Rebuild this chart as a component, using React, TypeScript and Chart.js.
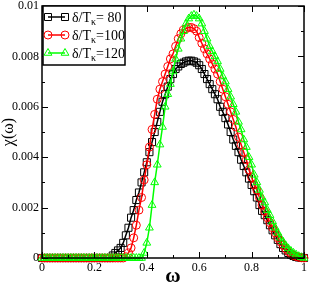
import React, { useEffect, useRef } from 'react';
import { Chart, registerables } from 'chart.js';

Chart.register(...registerables);

// ω grid (x values)
const omega = [
  0, 0.01, 0.02, 0.03, 0.04, 0.05, 0.06, 0.07, 0.08, 0.09,
  0.1, 0.11, 0.12, 0.13, 0.14, 0.15, 0.16, 0.17, 0.18, 0.19,
  0.2, 0.21, 0.22, 0.23, 0.24, 0.25, 0.26, 0.27, 0.28, 0.29,
  0.3, 0.31, 0.32, 0.33, 0.34, 0.35, 0.36, 0.37, 0.38, 0.39,
  0.4, 0.41, 0.42, 0.43, 0.44, 0.45, 0.46, 0.47, 0.48, 0.49,
  0.5, 0.51, 0.52, 0.53, 0.54, 0.55, 0.56, 0.57, 0.58, 0.59,
  0.6, 0.61, 0.62, 0.63, 0.64, 0.65, 0.66, 0.67, 0.68, 0.69,
  0.7, 0.71, 0.72, 0.73, 0.74, 0.75, 0.76, 0.77, 0.78, 0.79,
  0.8, 0.81, 0.82, 0.83, 0.84, 0.85, 0.86, 0.87, 0.88, 0.89,
  0.9, 0.91, 0.92, 0.93, 0.94, 0.95, 0.96, 0.97, 0.98, 0.99,
  1,
];

// δ/Tκ = 80
const chi80 = [
  0, 0, 0, 0, 0, 0, 0, 0, 0, 0,
  0, 0, 0, 0, 0, 0, 0, 0, 0, 0,
  0, 0, 0, 0, 0, 0, 0, 0.0001, 0.0002, 0.0003,
  0.0004, 0.0006, 0.0009, 0.0012, 0.0016, 0.0019, 0.0023, 0.0026, 0.003, 0.0034,
  0.0038, 0.0042, 0.0046, 0.005, 0.0054, 0.0058, 0.0062, 0.0065, 0.0068, 0.0071,
  0.0073, 0.0075, 0.0076, 0.0077, 0.00775, 0.0078, 0.00783, 0.00783, 0.0078, 0.00775,
  0.00765, 0.0075, 0.0073, 0.0071, 0.0069, 0.0067, 0.0065, 0.0063, 0.006, 0.0058,
  0.00555, 0.0053, 0.005, 0.0047, 0.00445, 0.0042, 0.0039, 0.00365, 0.0034, 0.00315,
  0.0029, 0.00265, 0.0024, 0.0021, 0.00187, 0.0017, 0.0015, 0.0013, 0.0011, 0.0009,
  0.00072, 0.00055, 0.0004, 0.0003, 0.0002, 0.00013, 0.00008, 0.00004, 0.00002, 0.00001,
  0,
];

// δ/Tκ = 100
const chi100 = [
  0, 0, 0, 0, 0, 0, 0, 0, 0, 0,
  0, 0, 0, 0, 0, 0, 0, 0, 0, 0,
  0, 0, 0, 0, 0, 0, 0, 0, 0, 0,
  0, 0, 0.00005, 0.0002, 0.0004, 0.0008, 0.0013, 0.0019, 0.0024, 0.0031,
  0.0037, 0.0044, 0.0051, 0.0057, 0.0063, 0.0067, 0.007, 0.0073, 0.0076, 0.0079,
  0.0081, 0.0084, 0.0087, 0.0089, 0.00905, 0.0091, 0.00915, 0.00915, 0.0091, 0.009,
  0.00875, 0.00852, 0.0083, 0.0081, 0.0079, 0.0077, 0.0075, 0.0073, 0.007, 0.0067,
  0.0064, 0.0061, 0.0058, 0.0055, 0.0052, 0.0048, 0.0045, 0.0042, 0.0039, 0.0035,
  0.0032, 0.0029, 0.0027, 0.0024, 0.0021, 0.00185, 0.0016, 0.0014, 0.0012, 0.001,
  0.0008, 0.00065, 0.0005, 0.00037, 0.00026, 0.00017, 0.0001, 0.00006, 0.00003, 0.00001,
  0,
];

// δ/Tκ = 120
const chi120 = [
  0, 0, 0, 0, 0, 0, 0, 0, 0, 0,
  0, 0, 0, 0, 0, 0, 0, 0, 0, 0,
  0, 0, 0, 0, 0, 0, 0, 0, 0, 0,
  0, 0, 0, 0, 0, 0, 0, 0, 0, 0.0002,
  0.0006, 0.0012, 0.0021, 0.003, 0.0037, 0.0045, 0.0052, 0.006, 0.0065, 0.0069,
  0.0074, 0.0079, 0.0083, 0.0087, 0.009, 0.0093, 0.0095, 0.0096, 0.00965, 0.0096,
  0.0095, 0.0093, 0.009, 0.0087, 0.0084, 0.0082, 0.008, 0.0078, 0.0075, 0.0072,
  0.007, 0.0067, 0.0064, 0.0061, 0.0058, 0.0054, 0.0051, 0.0047, 0.0044, 0.004,
  0.0037, 0.0033, 0.003, 0.0027, 0.0024, 0.0022, 0.0019, 0.0017, 0.00145, 0.0012,
  0.001, 0.0008, 0.00065, 0.0005, 0.00038, 0.00028, 0.0002, 0.00013, 0.00007, 0.00003,
  0,
];

const seriesSuffix = ['= 80', '=100', '=120'];
const seriesColors = ['#000000', '#ff0000', '#00ff00'];
const seriesMarkers = ['rect', 'circle', 'triangle'];

const xMajorTicks = [0, 0.2, 0.4, 0.6, 0.8, 1];
const xMinorTicks = [0.1, 0.3, 0.5, 0.7, 0.9];
const xTickLabels = ['0', '0.2', '0.4', '0.6', '0.8', '1'];
const yMajorTicks = [0, 0.002, 0.004, 0.006, 0.008, 0.01];
const yMinorTicks = [0.001, 0.003, 0.005, 0.007, 0.009];
const yTickLabels = ['0', '0.002', '0.004', '0.006', '0.008', '0.01'];

const SERIF = "'Liberation Serif', 'Times New Roman', serif";

function drawMarker(ctx: CanvasRenderingContext2D, kind: string, x: number, y: number, color: string) {
  ctx.save();
  ctx.strokeStyle = color;
  ctx.lineWidth = 1;
  ctx.beginPath();
  if (kind === 'rect') {
    ctx.rect(x - 3.5, y - 3.5, 7, 7);
  } else if (kind === 'circle') {
    ctx.arc(x, y, 4, 0, Math.PI * 2);
  } else {
    ctx.moveTo(x, y - 4.5);
    ctx.lineTo(x + 3.9, y + 2.25);
    ctx.lineTo(x - 3.9, y + 2.25);
    ctx.closePath();
  }
  ctx.stroke();
  ctx.restore();
}

const framePlugin = {
  id: 'frameTicks',
  afterDatasetsDraw(chart: any) {
    const { ctx, chartArea, scales } = chart;
    const { left, right, top, bottom } = chartArea;
    const xs = scales.x;
    const ys = scales.y;
    ctx.save();
    ctx.strokeStyle = '#000';
    ctx.lineWidth = 1;
    const tick = (vals: number[], len: number) => {
      for (const v of vals) {
        const px = Math.round(xs.getPixelForValue(v)) + 0.5;
        ctx.beginPath();
        ctx.moveTo(px, bottom); ctx.lineTo(px, bottom - len);
        ctx.moveTo(px, top); ctx.lineTo(px, top + len);
        ctx.stroke();
      }
    };
    const ytick = (vals: number[], len: number) => {
      for (const v of vals) {
        const py = Math.round(ys.getPixelForValue(v)) + 0.5;
        ctx.beginPath();
        ctx.moveTo(left, py); ctx.lineTo(left + len, py);
        ctx.moveTo(right, py); ctx.lineTo(right - len, py);
        ctx.stroke();
      }
    };
    tick(xMajorTicks, 6);
    tick(xMinorTicks, 3);
    ytick(yMajorTicks, 6);
    ytick(yMinorTicks, 3);
    ctx.lineWidth = 1.5;
    ctx.strokeRect(left, top, right - left, bottom - top);

    // legend
    const lx = left + 1;
    const ly = top;
    const lw = 82;
    const lh = 59;
    ctx.fillStyle = '#fff';
    ctx.fillRect(lx, ly, lw, lh);
    ctx.lineWidth = 1.5;
    ctx.strokeStyle = '#000';
    ctx.strokeRect(lx, ly, lw, lh);
    for (let i = 0; i < 3; i++) {
      const rowY = ly + 11 + i * 18;
      const c = seriesColors[i];
      ctx.strokeStyle = c;
      ctx.lineWidth = 1.5;
      ctx.beginPath();
      ctx.moveTo(lx + 5, rowY);
      ctx.lineTo(lx + 22, rowY);
      ctx.stroke();
      drawMarker(ctx, seriesMarkers[i], lx + 5, rowY, c);
      drawMarker(ctx, seriesMarkers[i], lx + 22, rowY, c);
      ctx.fillStyle = '#000';
      ctx.textBaseline = 'alphabetic';
      ctx.textAlign = 'left';
      ctx.font = `14px ${SERIF}`;
      let tx = lx + 29;
      const base = rowY + 5;
      ctx.fillText('δ/T', tx, base);
      tx += ctx.measureText('δ/T').width;
      ctx.font = `10px ${SERIF}`;
      ctx.fillText('κ', tx, base + 3);
      tx += ctx.measureText('κ').width;
      ctx.font = `14px ${SERIF}`;
      ctx.fillText(seriesSuffix[i], tx, base);
    }
    ctx.restore();
  },
};

export default function App() {
  const ref = useRef<HTMLCanvasElement | null>(null);
  useEffect(() => {
    document.body.style.margin = '0';
    const canvas = ref.current;
    if (!canvas) return;
    const all = [chi80, chi100, chi120];
    const datasets = all.map((vals, i) => ({
      label: 'δ/Tκ' + seriesSuffix[i],
      data: omega.map((x, k) => ({ x, y: vals[k] })),
      borderColor: seriesColors[i],
      backgroundColor: 'transparent',
      pointStyle: seriesMarkers[i],
      pointRadius: i === 0 ? 5 : i === 1 ? 4 : 4.5,
      pointBorderWidth: 1,
      pointBorderColor: seriesColors[i],
      pointBackgroundColor: 'transparent',
      borderWidth: 1.5,
      tension: 0,
      clip: false,
      order: 2 - i,
    }));
    const fitFix = (w?: number, h?: number) => (s: any) => {
      if (w !== undefined) s.width = w;
      if (h !== undefined) s.height = h;
      s.paddingTop = 0; s.paddingBottom = 0; s.paddingLeft = 0; s.paddingRight = 0;
    };
    const chart = new Chart(canvas, {
      type: 'line',
      data: { datasets },
      options: {
        animation: false,
        responsive: false,
        maintainAspectRatio: false,
        layout: { padding: { top: 5, right: 4, left: 0, bottom: 0 } },
        plugins: { legend: { display: false }, tooltip: { enabled: false } },
        scales: {
          x: {
            type: 'linear',
            min: 0,
            max: 1,
            grid: { display: false, drawTicks: false },
            border: { display: false },
            afterBuildTicks: (s: any) => { s.ticks = xMajorTicks.map((v) => ({ value: v })); },
            afterFit: fitFix(undefined, 28),
            ticks: {
              padding: 3,
              color: '#000',
              maxRotation: 0,
              autoSkip: false,
              font: { family: SERIF, size: 12 },
              callback: (_v: any, i: number) => xTickLabels[i],
            },
            title: {
              display: true,
              text: 'ω',
              color: '#000',
              font: { family: SERIF, size: 21, weight: 'bold', lineHeight: 1 },
              padding: { top: 0, bottom: -1 },
            },
          },
          y: {
            type: 'linear',
            min: 0,
            max: 0.01,
            grid: { display: false, drawTicks: false },
            border: { display: false },
            afterBuildTicks: (s: any) => { s.ticks = yMajorTicks.map((v) => ({ value: v })); },
            afterFit: fitFix(42, undefined),
            ticks: {
              padding: 3,
              color: '#000',
              autoSkip: false,
              font: { family: SERIF, size: 12 },
              callback: (_v: any, i: number) => yTickLabels[i],
            },
            title: {
              display: true,
              text: 'χ(ω)',
              color: '#000',
              font: { family: SERIF, size: 16, lineHeight: 1.1 },
              padding: { top: 0, bottom: 0 },
            },
          },
        },
      },
      plugins: [framePlugin],
    } as any);
    return () => chart.destroy();
  }, []);
  return (
    <div style={{ width: 310, height: 286 }}>
      <canvas ref={ref} width={310} height={286} style={{ display: 'block' }} />
    </div>
  );
}
